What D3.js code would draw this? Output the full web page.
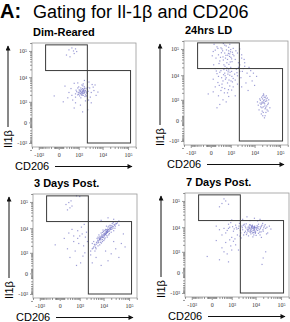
<!DOCTYPE html>
<html>
<head>
<meta charset="utf-8">
<script src="https://cdn.jsdelivr.net/npm/d3@7"></script>
<style>
  body { margin: 0; background: #fff; }
  svg { display: block; font-family: "Liberation Sans", Arial, sans-serif; }
</style>
</head>
<body>
<svg id="chart" width="290" height="322"></svg>
<script>
// panel titles
const panelTitles = ["Dim-Reared", "24hrs LD", "3 Days Post.", "7 Days Post."];

// events as [CD206, Il1b]
const dimReared = [
  [1400,2500],[1200,2800],[1700,2300],[1000,2100],[1900,3100],[1500,3600],[1100,1800],[2200,2600],[1300,3300],[800,2700],
  [1600,1900],[2400,3400],[900,3800],[1800,4200],[1250,1500],[2000,2000],[700,2200],[1450,2950],[2600,2800],[1050,3200],
  [1750,2650],[1350,2150],[950,2450],[2100,3700],[1550,4600],[1150,2350],[1650,3050],[2300,2300],[750,3100],[1900,1700],
  [1300,2600],[1550,2400],[1150,3000],[1700,2800],[1450,2200],[1050,2600],[1850,2450],[1250,3800],[1600,3300],[1400,1900],
  [900,2000],[2000,2900],[1500,2700],[1200,2200],[1800,3600],[1000,4200],[2200,1800],[700,1600],[2500,4000],[1400,5000],
  [500,1200],[300,2500],[3200,1600],[4500,3000],[3800,5200],[600,5800],[2800,6500],[400,3600],[5500,1900],[3500,900],
  [1200,700],[250,1500],[1800,7500],[700,900],[4200,4100],[3000,3800],[150,4500],[6500,2600],[2700,1200],[900,6000],
  [1600,5500],[3500,2500],[450,1900],[2000,1100],[5000,5000],
  [300,110000],[600,80000],[450,130000],[800,95000],[200,70000],[700,120000],[350,60000],[550,100000],
  [1500,300],[600,500],[2500,400],[-100,1800],[100,1000]
];
const hrs24LD = [
  [100,90000],[300,110000],[500,70000],[800,85000],[200,60000],[600,130000],[1000,95000],[400,50000],[700,40000],[150,120000],
  [900,65000],[1200,75000],[50,80000],[350,100000],[550,45000],[1400,55000],[250,35000],[650,30000],[1100,42000],[450,25000],
  [800,115000],[1300,105000],[30,55000],[500,140000],[950,32000],
  [120,45000],[420,38000],[720,58000],[1020,48000],[220,28000],[520,22000],[820,26000],[1150,33000],[60,25000],[320,72000],
  [620,92000],[880,52000],[180,105000],[1250,62000],[380,85000],[780,68000],[280,48000],[980,78000],[580,57000],[1600,40000],
  [1700,85000],[70,150000],[420,160000],[900,150000],
  [100,18000],[300,15000],[500,12000],[800,16000],[1100,14000],[200,9000],[600,8000],[400,6000],[900,10000],[1500,11000],
  [50,7000],[700,5000],[1300,7500],[250,13000],[1000,20000],[1800,17000],[350,4500],[650,19000],[1200,5500],[450,16500],
  [2000,9500],[150,11500],[750,13500],[550,7000],[2500,14000],
  [230,4000],[530,9500],[830,6500],[1130,9000],[130,14500],[430,10500],[730,11000],[1030,6000],[330,8000],[630,15500],
  [930,13000],[1600,6500],[1900,12500],[2200,20000],
  [100,3500],[300,2500],[500,3000],[200,1500],[700,2000],[400,1000],[900,3800],[50,2200],[600,800],[1100,2600],
  [250,600],[800,1400],[350,3300],[-50,1800],[150,400],[480,2000],[180,5200],[780,2700],[1300,3500],[1600,1500],[2000,4500],
  [2500,25000],[3500,18000],[5000,12000],[2800,8000],[4000,22000],[6500,9000],[3200,14000],[8000,6000],[2200,30000],[4500,5000],
  [7000,15000],[3000,3500],[10000,4000],[5500,2500],[2000,70000],[3000,45000],[4000,30000],[2500,100000],
  [3000,60000],[3800,40000],[6000,20000],[12000,9000],[9000,12000],
  [22000,450],[18000,600],[26000,350],[20000,800],[30000,500],[15000,300],[24000,1000],[28000,200],[19000,1300],[35000,700],
  [21000,100],[25000,650],[17000,950],[32000,1200],[23000,1600],[27000,850],[14000,550],[40000,400],[20000,250],[29000,1500],
  [16000,1100],[24500,50],[31000,300],[22500,1800],[18500,150],[26500,1300],[13000,800],[36000,1000],
  [21500,700],[19500,400],[23500,750],[25500,500],[20500,1100],[27500,400],[22000,200],[17500,450],[24000,1300],[30000,900],
  [33000,600],[26000,100],[19000,700],[28500,1100],[22800,900],[16500,700],[21000,1500],[34000,250]
];
const days3Post = [
  [3000,1200],[3500,1500],[4000,1800],[4500,2000],[5000,2300],[5500,2600],[6000,3000],[6500,3300],[7000,3600],[7500,3900],
  [8000,4200],[9000,4600],[10000,5000],[11000,5500],[12000,6000],[13000,6500],[14000,7000],[15000,7800],[17000,8500],[19000,9500],
  [21000,10500],[24000,11500],[27000,13000],[30000,14500],[35000,16000],
  [5200,2800],[5800,3400],[6300,2700],[6800,3800],[7300,4300],[7800,3500],[8300,4900],[8800,4400],[9300,5400],[9800,4300],
  [10300,5800],[10800,5000],[11300,6500],[11800,5600],[12300,7000],[12800,6100],[13300,7500],[13800,6800],[14300,8200],[14800,7200],
  [15500,9000],[16500,7500],[17500,9800],[18500,8800],[19500,11000],[21000,9000],[22500,12000],[23500,10000],[26000,14000],[29000,12000],
  [32000,15000],[4300,2300],[4800,1700],[3800,1600],[6600,4100],[9100,6900],[11200,8200],[10200,3300],[13200,8800],[16200,12000],
  [24000,16500],[8200,2600],
  [4000,3000],[5000,1500],[6000,4500],[7000,2200],[8000,6500],[9000,3000],[10000,7500],[11000,3800],[12000,9000],[14000,4500],
  [15000,11000],[16000,5500],[18000,13000],[20000,7000],[22000,15000],[25000,8000],[3500,2500],[6500,5500],[9500,8500],[13000,12000],
  [4500,1200],[7500,2800],[11500,4200],[17000,6200],[28000,10000],[5500,4000],[8500,5500],[12500,7800],[18000,10500],[3000,800],
  [40000,13000],[30000,18000],[10500,6200],[7200,4800],[14500,9200],[20000,12500],[6000,2000],[9000,3600],[13500,5200],
  [5000,600],[15000,400],[30000,1500],[8000,200],[50000,2500],[20000,900],[3500,300],[60000,6000],[12000,1200],[25000,3000],
  [40000,600],[70000,1800],
  [500,3000],[1000,5000],[200,1500],[800,8000],[1500,2000],[300,600],[1200,11000],[600,1200],[1800,4500],[100,4000],
  [700,200],[1400,700],[400,9000],[900,2500],[-100,2200],[1600,14000],[1100,300],[250,6500],
  [1300,6000],[500,5000],[2000,7000],[1700,1000],[800,4000],[2200,3000],
  [150,80000],[300,60000],[250,95000],[400,70000],[200,50000],[350,110000],[700,170000],[1000,160000],
  [8000,20000],[15000,25000],[25000,22000],[40000,19000]
];
const days7Post = [
  [5000,8000],[6000,9000],[7000,7000],[8000,10000],[9000,8500],[10000,6500],[4500,6000],[5500,11000],[6500,5500],[7500,12000],
  [8500,5000],[11000,9500],[12000,7500],[4000,9500],[6200,7600],[7200,8800],[8200,6200],[9200,11000],[5200,4600],[10500,4800],
  [6800,10500],[4800,7200],[8800,7800],[7800,4200],[5800,12500],[9600,9800],[3800,11000],[11500,11500],[6400,6600],[7400,9400],
  [5400,8600],[8600,9200],[9800,5800],[4300,5200],[12500,9000],
  [5600,9600],[6600,8200],[7600,10800],[8400,8600],[9400,7200],[10400,9200],[6000,6400],[7000,11400],[8000,7400],[9000,9800],
  [5000,10000],[6200,12000],[7600,6000],[8800,10400],[10800,8000],[4600,8400],[11800,10200],[5400,7000],[6800,9800],[9400,6400],
  [200,8000],[500,6000],[800,10000],[1200,7000],[1500,12000],[300,5000],[1000,4000],[2000,9000],[2500,6000],[100,11000],
  [700,13000],[1800,5000],[2200,14000],[3000,8000],[400,9000],[1400,3500],[2800,11000],[3300,5000],[600,7500],[900,15000],
  [1700,8500],[2600,3800],[3500,13000],[1100,10500],
  [1600,9800],[2400,7600],[2900,9600],[3200,12000],[1300,8600],[2100,11000],[700,9000],[3900,7000],[4200,13500],[2300,4500],[3600,6200],
  [14000,8000],[16000,10000],[20000,7000],[25000,9000],[15000,5000],[18000,12000],[30000,6000],[13000,13000],[22000,11000],[17000,4000],
  [40000,8500],[14500,6500],[19000,14000],[27000,5500],[35000,11000],
  [13500,10500],[15500,8800],[17000,11000],[21000,9500],[24000,12500],[16500,6600],[19500,8000],[13000,5800],[28000,10000],
  [300,1500],[600,800],[900,1800],[200,400],[500,2500],[1000,1200],[100,3000],[700,300],[400,1000],[1500,2000],
  [2000,1200],[800,3200],[-100,600],[1200,2800],
  [20000,500],[25000,1000],[18000,200],
  [300,80000],[500,100000],[200,60000],[700,75000],[400,120000],
  [3000,20000],[6000,18000],[9000,22000],[1000,19000],[4500,25000],[12000,17500],[15000,20000]
];

// gates, [[xmin, ymin], [xmax, ymax]]
const gateUpper = [[-450, 18000], [2400, 170000]];
const gateLower = [[2400, -1000], [125000, 18000]];

// axis ticks
const majorTicks = [-1000, 0, 1000, 10000, 100000];
const majorLabels = ["-10³", "0", "10³", "10⁴", "10⁵"];
const minorTicks = [-2000, -900, -800, -700, -600, -500, -400, -300, -200, -100,
  -80, -60, -40, -20, 20, 40, 60, 80,
  100, 200, 300, 400, 500, 600, 700, 800, 900,
  2000, 3000, 4000, 5000, 6000, 7000, 8000, 9000,
  20000, 30000, 40000, 50000, 60000, 70000, 80000, 90000, 200000];

const panelData = [dimReared, hrs24LD, days3Post, days7Post];
const origins = [[32, 43], [184, 41], [33, 194], [185, 193]];
const W = 104, H = 104;

const svg = d3.select("#chart");

svg.append("defs").append("marker")
    .attr("id", "arrow")
    .attr("viewBox", "0 0 10 10")
    .attr("refX", 9).attr("refY", 5)
    .attr("markerWidth", 7).attr("markerHeight", 5)
    .attr("markerUnits", "userSpaceOnUse")
    .attr("orient", "auto")
  .append("path")
    .attr("d", "M0,0L10,5L0,10Z")
    .attr("fill", "#111");

// heading
svg.append("text")
    .attr("x", 0).attr("y", 18)
    .style("font-size", "20px").style("font-weight", "bold")
    .text("A:");
svg.append("text")
    .attr("x", 33).attr("y", 18)
    .style("font-size", "18px")
    .text("Gating for Il-1β and CD206");

const x = d3.scaleSymlog().constant(200).domain([-2000, 204000]).range([0, W]);
const y = d3.scaleSymlog().constant(200).domain([-1500, 200000]).range([H, 0]);

panelData.forEach((data, i) => {
  const g = svg.append("g")
      .attr("transform", "translate(" + origins[i][0] + "," + origins[i][1] + ")");

  g.append("text")
      .attr("x", 1).attr("y", -7)
      .style("font-size", "11px").style("font-weight", "bold")
      .text(panelTitles[i]);

  // frame
  g.append("rect")
      .attr("width", W).attr("height", H)
      .attr("fill", "none").attr("stroke", "#9a9a9a").attr("stroke-width", 0.8);

  // events
  g.selectAll(".dot")
      .data(data)
    .enter().append("rect")
      .attr("class", "dot")
      .attr("x", d => x(d[0]) - 0.6)
      .attr("y", d => y(d[1]) - 0.6)
      .attr("width", 1.2).attr("height", 1.2)
      .attr("fill", "#4a4ab4")
      .attr("opacity", 0.55);

  // gates
  [gateUpper, gateLower].forEach(gt => {
    g.append("rect")
        .attr("x", x(gt[0][0]))
        .attr("y", y(gt[1][1]))
        .attr("width", x(gt[1][0]) - x(gt[0][0]))
        .attr("height", y(gt[0][1]) - y(gt[1][1]))
        .attr("fill", "none").attr("stroke", "#3a3a3a").attr("stroke-width", 1);
  });

  // axes
  const xMajor = g.append("g")
      .attr("transform", "translate(0," + H + ")")
      .call(d3.axisBottom(x).tickValues(majorTicks).tickSize(3).tickFormat((d, k) => majorLabels[k]));
  const xMinor = g.append("g")
      .attr("transform", "translate(0," + H + ")")
      .call(d3.axisBottom(x).tickValues(minorTicks).tickSize(2).tickFormat(""));
  const yMajor = g.append("g")
      .call(d3.axisLeft(y).tickValues(majorTicks).tickSize(3).tickFormat((d, k) => majorLabels[k]));
  const yMinor = g.append("g")
      .call(d3.axisLeft(y).tickValues(minorTicks).tickSize(2).tickFormat(""));

  [xMajor, xMinor, yMajor, yMinor].forEach(a => {
    a.select(".domain").remove();
    a.selectAll("line").attr("stroke", "#555").attr("stroke-width", 0.6);
    a.selectAll("text")
        .attr("fill", "#333")
        .style("font-size", "6px")
        .style("font-family", "'Liberation Serif', serif");
  });
  xMajor.selectAll("text").attr("y", 6);
  yMajor.selectAll("text").attr("x", -5);

  // axis titles with arrows
  g.append("text")
      .attr("x", -17).attr("y", H + 23)
      .style("font-size", "11px")
      .text("CD206");
  g.append("line")
      .attr("x1", 23).attr("x2", 100)
      .attr("y1", H + 19.5).attr("y2", H + 19.5)
      .attr("stroke", "#111").attr("stroke-width", 1)
      .attr("marker-end", "url(#arrow)");

  g.append("text")
      .attr("transform", "translate(-20," + (H + 1) + ") rotate(-90)")
      .style("font-size", "11px")
      .text("Il1β");
  g.append("line")
      .attr("x1", -24).attr("x2", -24)
      .attr("y1", H - 20).attr("y2", 3)
      .attr("stroke", "#111").attr("stroke-width", 1)
      .attr("marker-end", "url(#arrow)");
});
</script>
</body>
</html>
